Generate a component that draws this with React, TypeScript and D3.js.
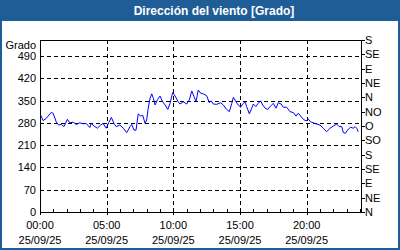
import React, { useEffect, useRef } from "react";
import * as d3 from "d3";

const minutes = [3,14,28,51,59,73,84,96,108,123,134,149,163,179,194,208,224,231,243,258,273,284,298,309,321,333,343,359,375,390,405,413,423,432,442,453,462,473,480,487,495,503,510,518,528,540,552,563,575,585,597,608,622,630,645,660,672,683,693,702,712,723,735,750,762,770,780,795,813,825,840,852,863,870,882,892,903,912,923,930,942,953,960,971,982,993,1002,1013,1025,1038,1050,1062,1072,1085,1095,1110,1125,1140,1152,1162,1173,1185,1197,1207,1218,1230,1245,1260,1275,1290,1305,1320,1335,1346,1358,1365,1374,1387,1398,1410,1418,1425,1432];
const degrees = [304,287,294,313,310,283,273,275,268,291,280,282,275,280,277,278,265,278,270,263,273,278,263,280,297,278,268,273,263,249,268,275,257,257,308,301,304,278,289,326,357,371,357,336,352,364,346,336,322,341,375,364,346,339,346,339,352,380,362,346,383,373,371,365,343,349,339,338,343,336,322,315,341,360,346,336,329,339,346,331,308,326,339,331,341,349,336,326,322,333,341,326,343,339,329,329,315,312,301,310,301,291,286,292,283,280,276,273,263,252,263,270,276,268,268,249,247,260,266,263,268,263,252];

const leftTicks = [0, 70, 140, 210, 280, 350, 420, 490];
const rightTicks = [0, 45, 90, 135, 180, 225, 270, 315, 360, 405, 450, 495, 540];
const rightLabels = ["N", "NE", "E", "SE", "S", "SO", "O", "NO", "N", "NE", "E", "SE", "S"];
const xMajorHours = [0, 5, 10, 15, 20];
const xMajorLabels = ["00:00", "05:00", "10:00", "15:00", "20:00"];
const dateLabel = "25/09/25";
const title = "Dirección del viento [Grado]";
const yUnit = "Grado";

export default function App() {
  const ref = useRef<SVGSVGElement>(null);
  useEffect(() => {
    const svg = d3.select(ref.current);
    svg.selectAll("*").remove();
    const W = 400, H = 250;
    const L = 40, R = 362, T = 40, B = 212;
    const font = "'Liberation Sans', Arial, sans-serif";
    const blue = "#1e5d96";

    svg.append("rect").attr("x", 0).attr("y", 0).attr("width", W).attr("height", H).attr("fill", blue);
    svg.append("rect").attr("x", 2).attr("y", 21).attr("width", W - 4).attr("height", H - 23).attr("fill", "#ffffff");
    svg.append("text").attr("x", W / 2 + 14).attr("y", 15).attr("text-anchor", "middle")
      .attr("font-family", font).attr("font-size", 12).attr("font-weight", "bold").attr("fill", "#fff").text(title);

    const x = d3.scaleLinear().domain([0, 24 * 60 + 9]).range([L, R]);
    const y = d3.scaleLinear().domain([0, 540]).range([B, T]);

    const g = svg.append("g");
    leftTicks.filter(v => v > 0).forEach(v => {
      g.append("line").attr("x1", L).attr("x2", R).attr("y1", Math.round(y(v)) + 0.5).attr("y2", Math.round(y(v)) + 0.5)
        .attr("stroke", "#000").attr("stroke-dasharray", "4,3").attr("stroke-width", 1);
    });
    xMajorHours.filter(h => h > 0).forEach(h => {
      const px = Math.round(x(h * 60)) + 0.5;
      g.append("line").attr("x1", px).attr("x2", px).attr("y1", T).attr("y2", B)
        .attr("stroke", "#000").attr("stroke-dasharray", "4,3").attr("stroke-width", 1);
    });
    g.append("rect").attr("x", L + 0.5).attr("y", T + 0.5).attr("width", R - L - 1).attr("height", B - T)
      .attr("fill", "none").attr("stroke", "#000");
    d3.range(1, 25).forEach(h => {
      const px = Math.round(x(h * 60)) + 0.5;
      g.append("line").attr("x1", px).attr("x2", px).attr("y1", B - 3).attr("y2", B + 0.5).attr("stroke", "#000");
    });
    xMajorHours.forEach(h => {
      const px = Math.round(x(h * 60)) + 0.5;
      g.append("line").attr("x1", px).attr("x2", px).attr("y1", B).attr("y2", B + 3).attr("stroke", "#000");
    });
    rightTicks.forEach(v => {
      const py = Math.round(y(v)) + 0.5;
      g.append("line").attr("x1", R).attr("x2", R + 3).attr("y1", py).attr("y2", py).attr("stroke", "#000");
    });

    const data = minutes.map((m, i) => [m, degrees[i]] as [number, number]);
    const line = d3.line<[number, number]>().x(d => x(d[0])).y(d => y(d[1]));
    g.append("path").attr("d", line(data)).attr("fill", "none").attr("stroke", "#0000ff").attr("stroke-width", 1);

    const t = svg.append("g").attr("font-family", font).attr("font-size", 11).attr("fill", "#000");
    leftTicks.forEach(v => {
      t.append("text").attr("x", 36).attr("y", y(v) + 4).attr("text-anchor", "end").text(String(v));
    });
    t.append("text").attr("x", 36).attr("y", 49).attr("text-anchor", "end").text(yUnit);
    rightTicks.forEach((v, i) => {
      t.append("text").attr("x", 365).attr("y", y(v) + 4).text(rightLabels[i]);
    });
    xMajorHours.forEach((h, i) => {
      const px = x(h * 60);
      t.append("text").attr("x", px).attr("y", 229).attr("text-anchor", "middle").text(xMajorLabels[i]);
      t.append("text").attr("x", px).attr("y", 244).attr("text-anchor", "middle").text(dateLabel);
    });
  }, []);
  return (
    <svg ref={ref} width={400} height={250} style={{ position: "fixed", left: 0, top: 0, display: "block" }} />
  );
}
